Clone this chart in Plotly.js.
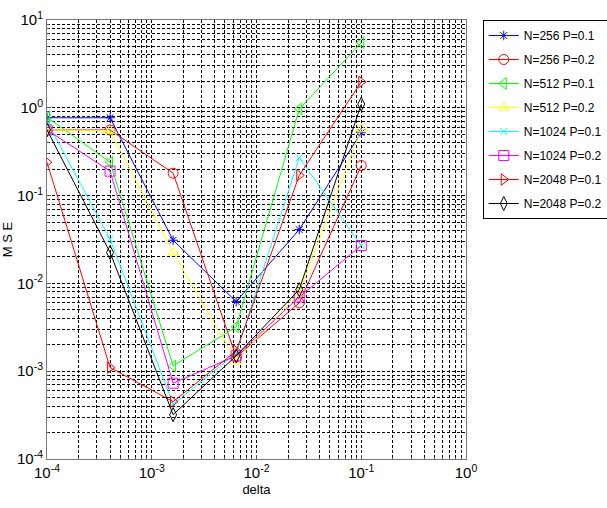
<!DOCTYPE html>
<html><head><meta charset="utf-8">
<script src="https://cdn.plot.ly/plotly-3.0.1.min.js"></script>
<style>body{margin:0;background:#fff}#plot{width:607px;height:508px}</style>
</head><body><div id="plot"></div>
<script>
const delta = [1e-4, 4e-4, 1.6e-3, 6.4e-3, 2.56e-2, 1.0e-1];
const names = ["N=256 P=0.1","N=256 P=0.2","N=512 P=0.1","N=512 P=0.2","N=1024 P=0.1","N=1024 P=0.2","N=2048 P=0.1","N=2048 P=0.2"];
const mse_256_01  = [0.77, 0.77, 0.031, 0.0062, 0.041, 0.52];
const mse_256_02  = [0.56, 0.56, 0.18, 0.00145, 0.0060, 0.22];
const mse_512_01  = [0.78, 0.24, 0.00115, 0.0032, 0.97, 5.5];
const mse_512_02  = [0.56, 0.55, 0.0225, 0.0013, 0.0079, 0.57];
const mse_1024_01 = [0.70, 0.032, 0.00042, 0.0016, 0.27, 0.027];
const mse_1024_02 = [0.56, 0.19, 0.00073, 0.0015, 0.0070, 0.027];
const mse_2048_01 = [0.24, 0.0011, 0.00045, 0.0017, 0.17, 1.97];
const mse_2048_02 = [0.56, 0.0225, 0.00032, 0.0015, 0.0085, 1.1];
const xTickVals = [1e-4, 1e-3, 1e-2, 1e-1, 1];
const xTickText = ["10<sup>-4</sup>","10<sup>-3</sup>","10<sup>-2</sup>","10<sup>-1</sup>","10<sup>0</sup>"];
const yTickVals = [1e-4, 1e-3, 1e-2, 1e-1, 1, 10];
const yTickText = ["10<sup>-4</sup>","10<sup>-3</sup>","10<sup>-2</sup>","10<sup>-1</sup>","10<sup>0</sup>","10<sup>1</sup>"];
const series = [mse_256_01, mse_256_02, mse_512_01, mse_512_02, mse_1024_01, mse_1024_02, mse_2048_01, mse_2048_02];
const colors = ["#0000ff","#ff0000","#00ff00","#ffff00","#00ffff","#ff00ff","#ff0000","#000000"];
const symbols = ["asterisk-open","circle-open","triangle-left-open","triangle-up-open","x-thin-open","square-open","triangle-right-open","diamond-tall-open"];
const sizes = [8,10,10,10,7,10,10,10];

const traces = series.map((y,i)=>({
  x: delta, y: y, name: names[i], type:'scatter', mode:'lines+markers',
  legendgroup: 'g'+i,
  line:{color:colors[i], width:1},
  marker:{symbol:symbols[i], color:colors[i], size:sizes[i], line:{color:colors[i], width:1}}
}));

const gridStyle = {gridcolor:'#000', gridwidth:1, griddash:'3px,2px'};
const axisCommon = {type:'log', tickmode:'array', exponentformat:'power',
    tickfont:{size:15, family:'Liberation Sans, Arial, sans-serif'}, ticks:'inside', ticklen:4, tickcolor:'#555',
    showline:true, linecolor:'#777', mirror:true, zeroline:false,
    showgrid:true, ...gridStyle,
    minor:{tickmode:'linear', dtick:'D1', showgrid:true, ...gridStyle, ticks:'inside', ticklen:2, tickcolor:'#555'}};
const layout = {
  width:607, height:508,
  margin:{l:47, r:141, t:20, b:49, autoexpand:false},
  paper_bgcolor:'#fff', plot_bgcolor:'#fff',
  font:{family:'Liberation Sans, Arial, sans-serif', color:'#000'},
  showlegend:true,
  legend:{x:1.04, xanchor:'left', y:1, yanchor:'top', bordercolor:'#000', borderwidth:1,
    bgcolor:'#fff', font:{size:12, family:'Liberation Sans, Arial, sans-serif'},
    tracegroupgap:5, itemwidth:30, traceorder:'grouped'},
  xaxis:{...axisCommon, range:[-4,0], tickvals:xTickVals, ticktext:xTickText,
    title:{text:'delta', font:{size:13}, standoff:4}},
  yaxis:{...axisCommon, range:[-4,1], tickvals:yTickVals, ticktext:yTickText,
    title:{text:'M S E', font:{size:13}, standoff:4}}
};
Plotly.newPlot('plot', traces, layout, {displayModeBar:false, staticPlot:true});
</script></body></html>
